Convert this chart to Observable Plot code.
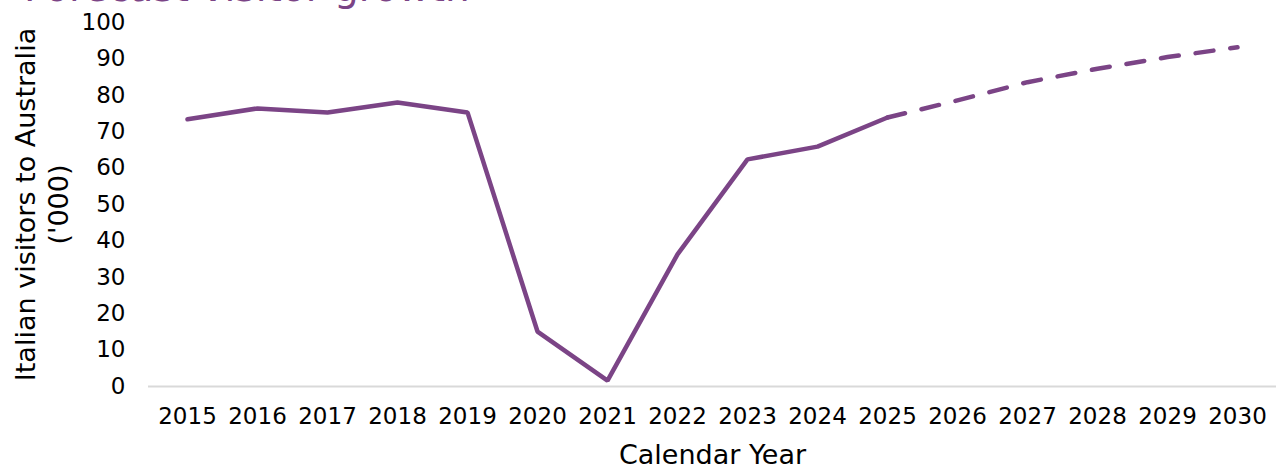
<!DOCTYPE html>
<html><head><meta charset="utf-8">
<script src="https://cdn.jsdelivr.net/npm/d3@7"></script>
<script src="https://cdn.jsdelivr.net/npm/@observablehq/plot@0.6"></script>
<style>
body{margin:0;background:#fff;font-family:"DejaVu Sans",Verdana,sans-serif;}
#wrap{position:relative;width:1276px;height:467px;overflow:hidden;background:#fff;}
#title{position:absolute;left:24px;top:-32.5px;font-size:39px;color:#7b4486;white-space:nowrap;line-height:1;z-index:2;}
#chart{position:absolute;left:0;top:0;z-index:1;}
</style></head><body>
<div id="wrap"><div id="title">Forecast visitor growth</div><div id="chart"></div></div>
<script>
const years = [2015,2016,2017,2018,2019,2020,2021,2022,2023,2024,2025,2026,2027,2028,2029,2030];
const actualYears = [2015,2016,2017,2018,2019,2020,2021,2022,2023,2024,2025];
const actualValues = [73.4,76.4,75.3,78.0,75.3,15.1,1.6,36.3,62.4,65.9,73.9];
const forecastYears = [2025,2026,2027,2028,2029,2030];
const forecastValues = [73.9,78.6,83.6,87.3,90.5,93.2];
const yTicks = [0,10,20,30,40,50,60,70,80,90,100];
const xTitle = "Calendar Year";
const yTitle = "Italian visitors to Australia\n('000)";

const purple = "#7b4486";
const actual = actualYears.map((year, i) => ({year, value: actualValues[i]}));
const forecast = forecastYears.map((year, i) => ({year, value: forecastValues[i]}));

const chart = Plot.plot({
  width: 1276, height: 467,
  marginTop: 22, marginBottom: 81, marginLeft: 148, marginRight: 0,
  style: {fontFamily: "'DejaVu Sans', Verdana, sans-serif", fontSize: "23px", color: "#000", background: "transparent", overflow: "visible"},
  x: {type: "point", domain: years, padding: 0.5},
  y: {domain: [0, 100]},
  marks: [
    Plot.axisX({tickSize: 0, tickPadding: 21, tickFormat: d => String(d), label: null, fontSize: 23}),
    Plot.axisY(yTicks, {tickSize: 0, tickPadding: 23, label: null, fontSize: 23}),
    Plot.text([xTitle], {text: d => d, frameAnchor: "bottom", dy: 69, lineAnchor: "middle", fontSize: 27, fill: "#000"}),
    Plot.text([yTitle], {text: d => d, frameAnchor: "left", rotate: -90, dx: -137, lineAnchor: "top", textAnchor: "middle", lineHeight: 1.22, fontSize: 27, fill: "#000"}),
    Plot.ruleY([0], {stroke: "#d9d9d9", strokeWidth: 2}),
    Plot.line(actual, {x: "year", y: "value", stroke: purple, strokeWidth: 4.5, strokeLinejoin: "miter"}),
    Plot.line(forecast, {x: "year", y: "value", stroke: purple, strokeWidth: 4.5, strokeDasharray: "18,17", strokeLinecap: "round"})
  ]
});
document.getElementById("chart").appendChild(chart);
</script>
</body></html>
